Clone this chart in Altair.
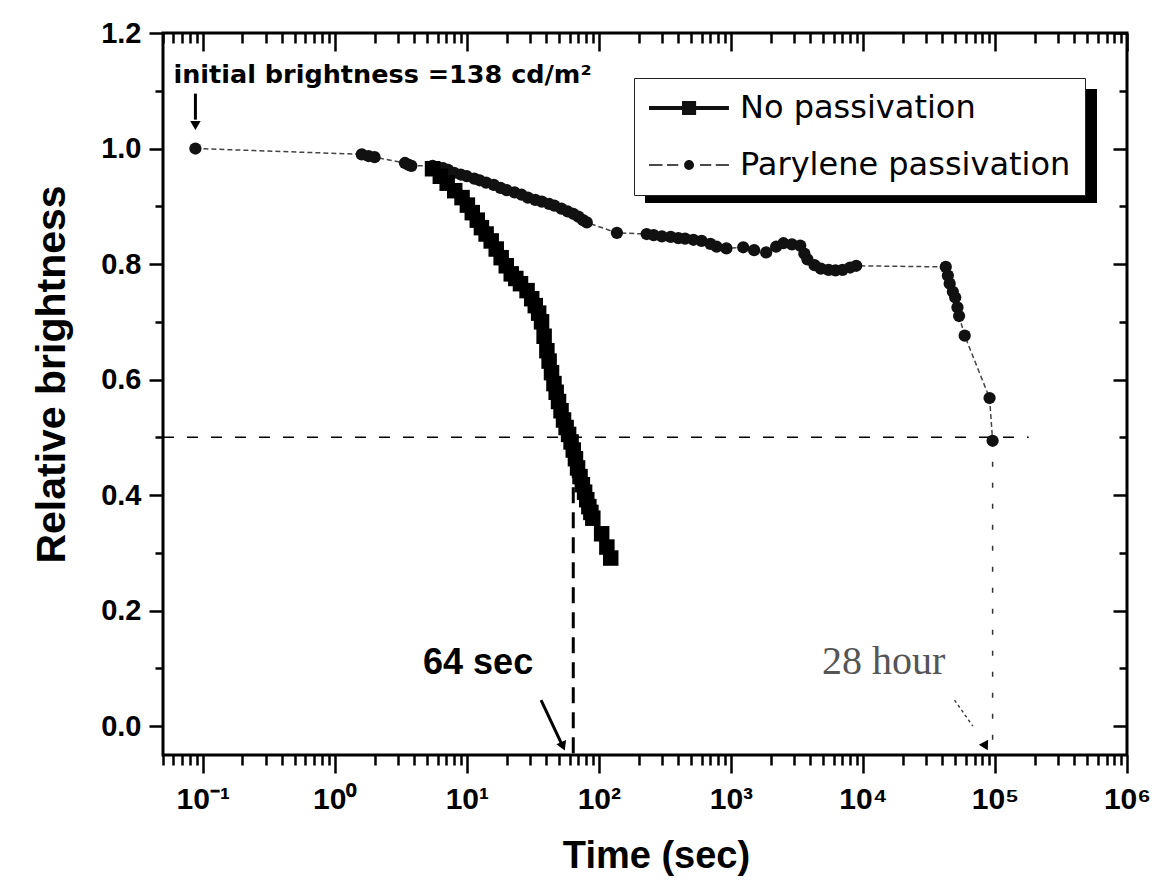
import json
import altair as alt
import pandas as pd

# ---------------- data ----------------
series_names = ["No passivation", "Parylene passivation"]

nopass_t = [5.5, 6.3, 7.1, 8.1, 9.2, 10.1, 11.0, 12.0, 12.9, 14.0, 15.3, 16.7, 18.2, 19.9, 21.7,
            23.5, 25.5, 28.6, 31.0, 33.0, 35.0, 36.8, 38.5, 40.4, 42.0, 43.8, 45.7, 47.5, 49.5,
            51.7, 54.0, 56.5, 59.0, 61.6, 64.0, 66.5, 69.0, 72.0, 75.0, 78.0, 81.0, 84.0, 87.0,
            90.0, 105.0, 115.0, 123.0]
nopass_y = [0.965, 0.952, 0.94, 0.927, 0.915, 0.902, 0.889, 0.876, 0.863, 0.852, 0.84, 0.826,
            0.811, 0.797, 0.783, 0.775, 0.766, 0.754, 0.74, 0.728, 0.715, 0.70, 0.675, 0.65,
            0.632, 0.612, 0.593, 0.578, 0.562, 0.546, 0.53, 0.517, 0.505, 0.492, 0.478, 0.463,
            0.447, 0.432, 0.418, 0.405, 0.392, 0.38, 0.37, 0.36, 0.333, 0.31, 0.291]

pary_t = [0.088, 1.6, 1.8, 2.0, 3.4, 3.6, 3.8, 5.5, 6.0, 6.6, 7.2, 8.0, 9.0, 10.0, 11.4, 12.5,
          14.0, 16.0, 18.0, 20.0, 23.0, 26.0, 29.0, 33.0, 37.0, 42.0, 46.0, 52.0, 58.0, 64.0,
          70.0, 76.0, 81.0, 137.0, 230.0, 260.0, 300.0, 350.0, 400.0, 450.0, 520.0, 600.0,
          700.0, 780.0, 925.0, 1240.0, 1500.0, 1850.0, 2200.0, 2500.0, 2900.0, 3350.0, 3600.0,
          3800.0, 4300.0, 4800.0, 5500.0, 6200.0, 7000.0, 8000.0, 8900.0, 42400.0, 44000.0,
          45400.0, 48000.0, 50000.0, 52000.0, 53500.0, 59000.0, 91000.0, 96000.0]
pary_y = [1.0, 0.99, 0.987, 0.985, 0.975, 0.972, 0.97, 0.97, 0.968, 0.966, 0.963, 0.958, 0.955,
          0.952, 0.948, 0.945, 0.941, 0.937, 0.932, 0.928, 0.924, 0.92, 0.915, 0.911, 0.908,
          0.904, 0.901, 0.896, 0.891, 0.887, 0.882, 0.876, 0.872, 0.854, 0.852, 0.85, 0.848,
          0.847, 0.845, 0.844, 0.842, 0.84, 0.835, 0.83, 0.827, 0.829, 0.824, 0.82, 0.83,
          0.836, 0.834, 0.832, 0.818, 0.808, 0.798, 0.792, 0.79, 0.789, 0.79, 0.794, 0.797,
          0.795, 0.78, 0.766, 0.752, 0.742, 0.725, 0.71, 0.676, 0.568, 0.494]

x_domain = [0.05, 1e6]
y_domain = [-0.05, 1.2]
x_decades = [-1, 0, 1, 2, 3, 4, 5, 6]
x_tick_labels = ["10⁻¹", "10⁰", "10¹", "10²", "10³", "10⁴", "10⁵", "10⁶"]
y_major = [0.0, 0.2, 0.4, 0.6, 0.8, 1.0, 1.2]
y_minor = [0.1, 0.3, 0.5, 0.7, 0.9, 1.1]

# half-brightness guide lines
half_level = [0.5]
hline_t = [0.05, 180000.0]
half_t = [64.0, 96000.0]
half_y = [0.5, 0.494]

# annotations
ann_text = ["initial brightness =138 cd/m²", "64 sec", "28 hour"]
ann_t = [0.06, 31.8, 4900.0]
ann_y = [1.113, 0.09, 0.09]

arrow_t0 = [0.088, 36.5, 49400.0]
arrow_y0 = [1.095, 0.045, 0.045]
arrow_t1 = [0.088, 52.0, 68000.0]
arrow_y1 = [1.05, -0.03, 0.0]
head_t = [0.088, 53.5, 85000.0]
head_y = [1.04, -0.035, -0.035]
head_angle = [0, 337, 332]

# ---------------- helpers ----------------
W, H = 964, 722
LEFT, TOP = 155, 25
xs = alt.Scale(type="log", domain=x_domain)
ys = alt.Scale(domain=y_domain)

x_ticks = sorted([10.0 ** k for k in x_decades] +
                 [m * 10.0 ** k for k in range(-2, 6) for m in range(2, 10)
                  if x_domain[0] - 1e-12 <= m * 10.0 ** k <= x_domain[1]])
y_ticks = sorted(y_major + y_minor)

MAJ_X = "abs(log(datum.value)/LN10 - round(log(datum.value)/LN10)) < 0.001"
MAJ_Y = "abs(datum.value*5 - round(datum.value*5)) < 0.001"
x_label_expr = (f"{MAJ_X} ? {json.dumps(x_tick_labels, ensure_ascii=False)}"
                f"[round(log(datum.value)/LN10) + 1] : ''")
y_label_expr = f"{MAJ_Y} ? format(datum.value, '.1f') : ''"

BOLD = "Liberation Sans"

nopass = pd.DataFrame({"t": nopass_t, "y": nopass_y})
pary = pd.DataFrame({"t": pary_t, "y": pary_y})


def X(field="t", **kw):
    return alt.X(f"{field}:Q", scale=xs, axis=None, **kw)


def Y(field="y", **kw):
    return alt.Y(f"{field}:Q", scale=ys, axis=None, **kw)


# axes layers (outer bottom/left, inner top/right)
axis_main = alt.Chart(pary).mark_point(opacity=0).encode(
    x=alt.X("t:Q", scale=xs, axis=alt.Axis(
        orient="bottom", values=x_ticks, labelExpr=x_label_expr,
        tickSize={"condition": {"test": MAJ_X, "value": 18}, "value": 10},
        tickWidth=2.5, tickColor="black", domain=False, grid=False,
        labelFont=BOLD, labelFontSize=30, labelFontWeight="bold", labelColor="black",
        labelPadding=11, labelFlush=False, labelOverlap=False,
        title="Time (sec)", titleFont=BOLD, titleFontSize=38, titleFontWeight="bold",
        titleColor="black", titleX=493, titleY=112, titleBaseline="alphabetic")),
    y=alt.Y("y:Q", scale=ys, axis=alt.Axis(
        orient="left", values=y_ticks, labelExpr=y_label_expr,
        tickSize={"condition": {"test": MAJ_Y, "value": 14}, "value": 8},
        tickWidth=2.5, tickColor="black", domain=False, grid=False,
        labelFont=BOLD, labelFontSize=29, labelFontWeight="bold", labelColor="black",
        labelPadding=8, labelFlush=False, labelOverlap=False,
        title="Relative brightness", titleFont=BOLD, titleFontSize=41,
        titleFontWeight="bold", titleColor="black", titleX=-111, titleY=341,
        titleBaseline="middle")),
)

axis_inner = alt.Chart(pary).mark_point(opacity=0).encode(
    x=alt.X("t:Q", scale=xs, axis=alt.Axis(
        orient="bottom", offset=-H, values=x_ticks, labels=False, title=None,
        tickSize={"condition": {"test": MAJ_X, "value": 18}, "value": 10},
        tickWidth=2.5, tickColor="black", domain=False, grid=False)),
    y=alt.Y("y:Q", scale=ys, axis=alt.Axis(
        orient="left", offset=-W, values=y_ticks, labels=False, title=None,
        tickSize={"condition": {"test": MAJ_Y, "value": 14}, "value": 8},
        tickWidth=2.5, tickColor="black", domain=False, grid=False)),
)

# guide lines
hline = alt.Chart(pd.DataFrame({"t": [hline_t[0]], "t2": [hline_t[1]], "y": half_level})).mark_rule(
    color="black", strokeWidth=1.5, strokeDash=[11, 13]).encode(x=X(), x2="t2:Q", y=Y())

half_df = pd.DataFrame({"t": half_t, "y": half_y, "y2": [y_domain[0]] * 2})
vline1 = alt.Chart(half_df.iloc[[0]]).mark_rule(
    color="black", strokeWidth=3, strokeDash=[16, 9]).encode(x=X(), y=Y(), y2="y2:Q")
vline2 = alt.Chart(half_df.iloc[[1]]).mark_rule(
    color="#333", strokeWidth=1.5, strokeDash=[5, 16]).encode(x=X(), y=Y(), y2="y2:Q")

# data series
pary_line = alt.Chart(pary).mark_line(color="#444", strokeWidth=1.5, strokeDash=[5, 3]).encode(
    x=X(), y=Y())
nopass_line = alt.Chart(nopass).mark_line(color="black", strokeWidth=3).encode(x=X(), y=Y())
pary_pts = alt.Chart(pary).mark_circle(color="#111", size=150, opacity=1).encode(x=X(), y=Y())
nopass_pts = alt.Chart(nopass).mark_square(color="black", size=240, opacity=1).encode(x=X(), y=Y())

# arrows
arr = pd.DataFrame({"t": arrow_t0, "y": arrow_y0, "t2": arrow_t1, "y2": arrow_y1})
arrow_a = alt.Chart(arr.iloc[[0, 1]]).mark_rule(color="black", strokeWidth=3).encode(
    x=X(), y=Y(), x2="t2:Q", y2="y2:Q")
arrow_b = alt.Chart(arr.iloc[[2]]).mark_rule(color="#444", strokeWidth=1.5, strokeDash=[3, 3]).encode(
    x=X(), y=Y(), x2="t2:Q", y2="y2:Q")
heads = alt.Chart(pd.DataFrame({"t": head_t, "y": head_y, "a": head_angle})).mark_point(
    shape="triangle-down", filled=True, color="black", size=110, opacity=1).encode(
    x=X(), y=Y(), angle=alt.Angle("a:Q", scale=None))

# texts
ann = pd.DataFrame({"t": ann_t, "y": ann_y, "text": ann_text})
txt1 = alt.Chart(ann.iloc[[0]]).mark_text(
    font="DejaVu Sans", fontWeight="bold", fontSize=25.5, align="left", baseline="alphabetic",
    color="black").encode(x=X(), y=Y(), text="text:N")
txt2 = alt.Chart(ann.iloc[[1]]).mark_text(
    font=BOLD, fontWeight="bold", fontSize=36, align="right", baseline="alphabetic",
    color="black").encode(x=X(), y=Y(), text="text:N")
txt3 = alt.Chart(ann.iloc[[2]]).mark_text(
    font="Liberation Serif", fontSize=40, align="left", baseline="alphabetic",
    color="#555").encode(x=X(), y=Y(), text="text:N")

# legend (native legend with custom line+marker symbols)
PATH_SQ = "M-1,-0.14H4.33V0.14H-1Z M1.2,-0.47H2.14V0.47H1.2Z"
PATH_CI = ("M-1,-0.05H-0.1V0.05H-1Z M0.2,-0.05H0.95V0.05H0.2Z "
           "M2.4,-0.05H3.15V0.05H2.4Z M3.45,-0.05H4.33V0.05H3.45Z "
           "M1.34,0A0.33,0.33,0,1,1,2.0,0A0.33,0.33,0,1,1,1.34,0Z")
legend_layer = alt.Chart(pd.DataFrame({"series": series_names})).transform_filter(
    "false").mark_point(filled=True, color="#111", opacity=1).encode(
    shape=alt.Shape("series:N", scale=alt.Scale(domain=series_names, range=[PATH_SQ, PATH_CI]),
                    legend=alt.Legend(title=None, orient="none", legendX=471, legendY=45,
                                      padding=14, fillColor="white", strokeColor="#222",
                                      symbolSize=900, symbolFillColor="#111",
                                      symbolStrokeWidth=0, symbolOpacity=1,
                                      labelFont="DejaVu Sans", labelFontSize=32,
                                      labelColor="black", labelOffset=60, labelLimit=600,
                                      rowPadding=25)))

shadow = alt.Chart(pd.DataFrame({"k": [0]})).mark_rect(color="black").encode(
    x=alt.value(482), x2=alt.value(934), y=alt.value(56), y2=alt.value(170))

chart = alt.layer(
    shadow, hline, vline1, vline2, pary_line, nopass_line, pary_pts, nopass_pts,
    arrow_a, arrow_b, heads, txt1, txt2, txt3, axis_main, axis_inner, legend_layer,
).resolve_axis(x="independent", y="independent").properties(
    width=W, height=H,
    autosize=alt.AutoSizeParams(type="none"),
    padding={"left": LEFT, "top": TOP, "right": 26, "bottom": 124},
).configure_view(stroke="black", strokeWidth=3).configure_legend(strokeWidth=1)

chart.save("out.html", embed_options={"renderer": "svg", "actions": False})
